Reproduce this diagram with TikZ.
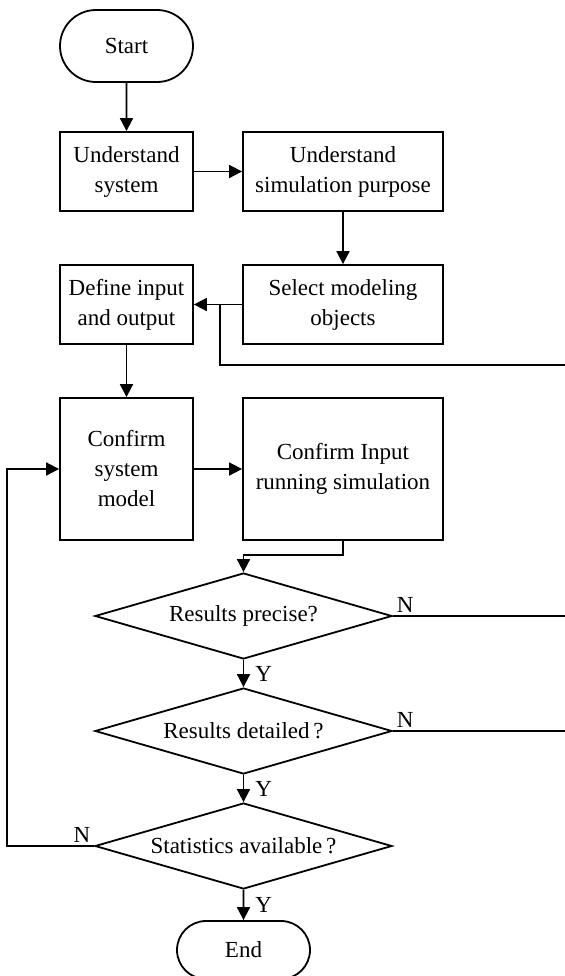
\documentclass[tikz,border=0pt]{standalone}
\usepackage{fontspec}
\setmainfont{Liberation Serif}
\usetikzlibrary{shapes.geometric,shapes.misc,arrows.meta}

\begin{document}
\begin{tikzpicture}[x=0.5pt,y=-0.5pt, line width=0.9pt,
  font=\fontsize{11.5}{15}\selectfont,
  term/.style={draw, rounded rectangle, minimum width=66.5pt, minimum height=36pt, inner sep=0pt},
  proc/.style={draw, rectangle, minimum height=39.5pt, align=center, inner sep=0pt},
  dec/.style={draw, diamond, aspect=3.45, minimum width=148.5pt, minimum height=43pt, inner sep=0pt},
  arr/.style={-{Triangle[length=6.5pt,width=6.5pt]}},
  yn/.style={inner sep=1.5pt}]
  \clip (0,0) rectangle (565,976);
  % Top: preparing the model
  \node[term] (start) at (126.5,46) {Start};
  \node[proc, minimum width=66.5pt] (sys) at (126.5,171.5) {Understand\\system};
  \node[proc, minimum width=100pt] (purpose) at (343,171.5) {Understand\\simulation purpose};
  \node[proc, minimum width=100pt] (select) at (343,304.5) {Select modeling\\objects};
  \node[proc, minimum width=66.5pt] (define) at (126.5,304.5) {Define input\\and output};
  \node[proc, minimum width=66.5pt, minimum height=71pt] (model) at (126.5,469) {Confirm\\system\\model};
  \node[proc, minimum width=100pt, minimum height=71pt] (run) at (343,469) {Confirm Input\\running simulation};
  % Bottom: checking the results
  \node[dec] (precise) at (243.5,616) {Results precise?};
  \node[dec] (detail) at (243.5,731) {Results detailed\,?};
  \node[dec] (stats) at (243.5,846) {Statistics available\,?};
  \node[term, minimum height=29pt] (end) at (243.5,950) {End};
  \coordinate (retR) at (565,365);
  \coordinate (jn) at (220,304.5);
  \coordinate (outP) at (565,616);
  \coordinate (outD) at (565,731);

  \draw[arr] (start) -- (sys);
  \draw[arr] (sys) -- (purpose);
  \draw[arr] (purpose) -- (select);
  \draw[arr] (select) -- (define);
  \draw (retR) -| (jn);
  \draw[arr] (define) -- (model);
  \draw[arr] (model) -- (run);
  \draw[arr] (run.south) -- ++(0,14) -| (precise.north);
  \draw[arr] (precise) -- node[yn, right=4pt] {Y} (detail);
  \draw[arr] (detail) -- node[yn, right=4pt] {Y} (stats);
  \draw[arr] (stats) -- node[yn, right=4pt] {Y} (end);
  \draw (precise.east) -- node[yn, pos=0, above right] {N} (outP);
  \draw (detail.east) -- node[yn, pos=0, above right] {N} (outD);
  \draw[arr] (stats.west) -- node[yn, pos=0, above left] {N} ++(-87,0) |- (model.west);
\end{tikzpicture}
\end{document}
